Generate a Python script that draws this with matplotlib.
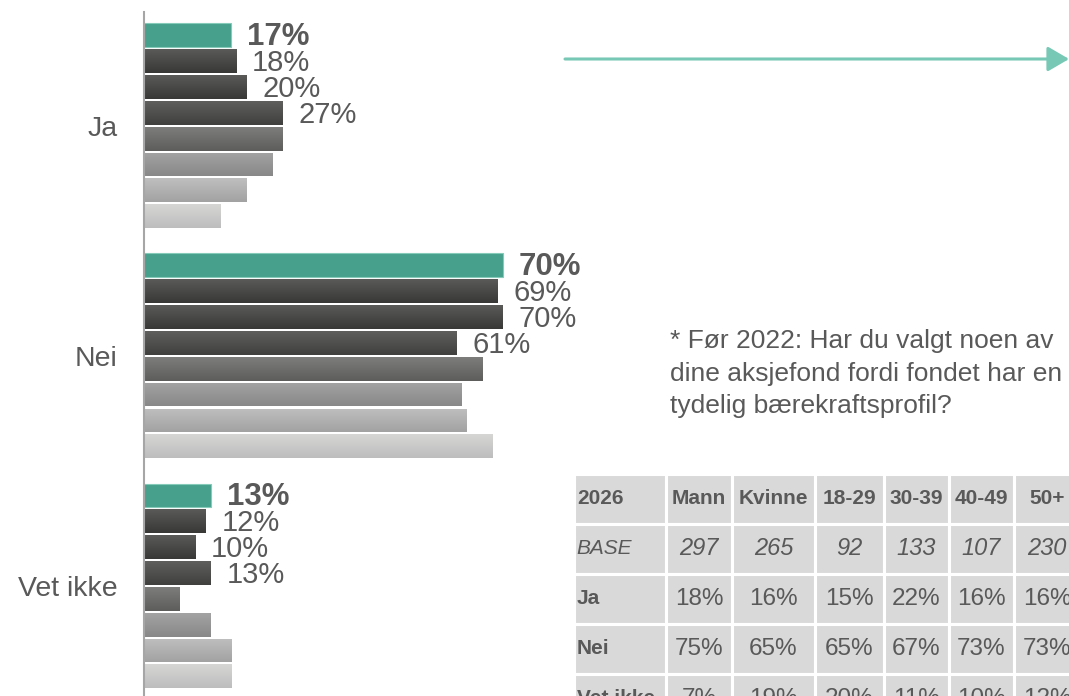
import numpy as np
import matplotlib.pyplot as plt
from matplotlib.colors import LinearSegmentedColormap
from matplotlib.patches import FancyArrowPatch
from matplotlib.table import Table

plt.rcParams['font.family'] = ['Liberation Sans', 'DejaVu Sans']

# answer categories
groups = ["Ja", "Nei", "Vet ikke"]

# one list per year, newest first (only the first four get labels)
s_2026 = [17, 70, 13]
s_2025 = [18, 69, 12]
s_2024 = [20, 70, 10]
s_2023 = [27, 61, 13]
s_2022 = [27, 66, 7]
s_2021 = [25, 62, 13]
s_2020 = [20, 63, 17]
s_2019 = [15, 68, 17]
series = [s_2026, s_2025, s_2024, s_2023, s_2022, s_2021, s_2020, s_2019]
n_labeled = 4

# (top colour, bottom colour) for the gradient of each series
shades = [("#46a08b", "#46a08b"),
          ("#5a5a58", "#383936"),
          ("#5a5a58", "#383936"),
          ("#5f605d", "#40413e"),
          ("#7d7d7b", "#5d5d5b"),
          ("#a3a3a3", "#888888"),
          ("#bfbfbf", "#a2a2a2"),
          ("#d6d6d5", "#bdbdbd")]

# table at the lower right
tbl_header = ["2026", "Mann", "Kvinne", "18-29", "30-39", "40-49", "50+"]
tbl_base = ["BASE", "297", "265", "92", "133", "107", "230"]
tbl_ja = ["Ja", "18%", "16%", "15%", "22%", "16%", "16%"]
tbl_nei = ["Nei", "75%", "65%", "65%", "67%", "73%", "73%"]
tbl_vet = ["Vet ikke", "7%", "19%", "20%", "11%", "10%", "12%"]

note = "* Før 2022: Har du valgt noen av\ndine aksjefond fordi fondet har en\ntydelig bærekraftsprofil?"

txt_col = "#595959"
W, H = 1069, 696
fig = plt.figure(figsize=(W / 100, H / 100), dpi=100)

# ---- bars
ax = fig.add_axes([144 / W, 0, 410 / W, 1 - 12 / H])
step = 8.9
bh = 0.92
for s, vals in enumerate(series):
    ys = np.arange(len(groups)) * step + s
    top, bot = shades[s]
    edge = "#86cbb9" if s == 0 else "none"
    bars = ax.barh(ys, vals, height=bh, color=top, edgecolor=edge, lw=0.8, zorder=2)
    if s > 0:
        cmap = LinearSegmentedColormap.from_list(f"g{s}", [top, bot])
        grad = np.linspace(0, 1, 64).reshape(-1, 1)
        for rect, v, y in zip(bars, vals, ys):
            im = ax.imshow(grad, extent=[0, v, y + bh / 2, y - bh / 2], cmap=cmap,
                           aspect='auto', zorder=2.5, interpolation='bilinear')
            im.set_clip_path(rect)
    if s < n_labeled:
        for v, y in zip(vals, ys):
            ax.annotate(f"{v}%", (v, y), xytext=(11.5, -1.5), textcoords='offset points',
                        va='center', ha='left', fontsize=22.5 if s == 0 else 21,
                        color=txt_col, fontweight='bold' if s == 0 else 'normal')

ax.set_xlim(0, 80)
ax.set_ylim(-0.9 + 684 / 25.85, -0.9)
ax.set_yticks(np.arange(len(groups)) * step + 3.5, groups, fontsize=20.5, color=txt_col)
ax.tick_params(axis='y', length=0, pad=19)
ax.set_xticks([])
for side in ["top", "right", "bottom"]:
    ax.spines[side].set_visible(False)
ax.spines["left"].set_color("#a6a6a6")
ax.spines["left"].set_linewidth(1.5)

# ---- arrow
arrow = FancyArrowPatch((565 / W, 1 - 59 / H), (1069 / W, 1 - 59 / H), transform=fig.transFigure,
                        arrowstyle="-|>,head_length=0.65,head_width=0.38", mutation_scale=20,
                        color="#77c8b5", lw=2.2, shrinkA=0, shrinkB=0)
fig.add_artist(arrow)

# ---- note
fig.text(670 / W, 1 - 329 / H, note, fontsize=19, color=txt_col, va='top', ha='left', linespacing=1.45)

# ---- table
tax = fig.add_axes([574 / W, 1 - 724 / H, 506 / W, 250 / H])
tax.axis('off')
col_px = [92, 66, 83, 69, 65, 65, 66]
col_w = [c / sum(col_px) for c in col_px]
rows = [tbl_header, tbl_base, tbl_ja, tbl_nei, tbl_vet]
tbl = Table(tax, bbox=[0, 0, 1, 1])
for r, row in enumerate(rows):
    for c, t in enumerate(row):
        cell = tbl.add_cell(r, c, width=col_w[c], height=1 / len(rows), text=t,
                            loc='left' if c == 0 else 'center',
                            facecolor="#d9d9d9", edgecolor="white")
        cell.set_linewidth(2.2)
        cell.PAD = 0.03
        tx = cell.get_text()
        tx.set_color(txt_col)
        if r == 0:
            tx.set_fontsize(15)
            tx.set_fontweight('bold')
        elif r == 1:
            tx.set_fontsize(15 if c == 0 else 17)
            tx.set_fontstyle('italic')
        elif c == 0:
            tx.set_fontsize(15)
            tx.set_fontweight('bold')
        else:
            tx.set_fontsize(17.5)
tbl.auto_set_font_size(False)
tax.add_table(tbl)

fig.savefig("out.png", dpi=100)
